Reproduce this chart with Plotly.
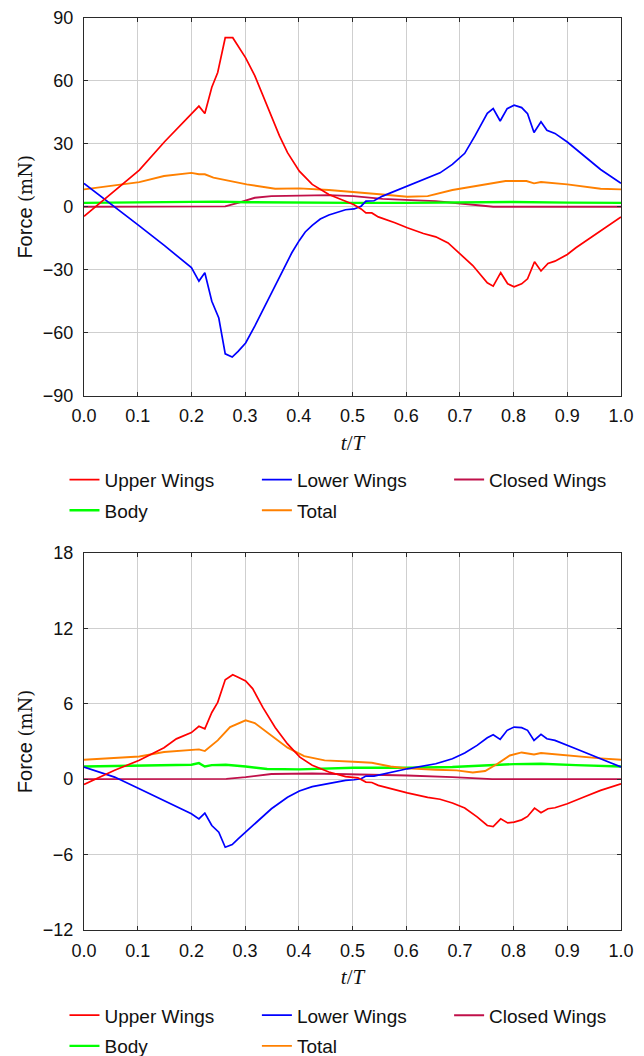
import plotly.graph_objects as go
from plotly.subplots import make_subplots

# ---------------- data: top panel (mN) ----------------
t_up1 = [0.0, 0.05, 0.103, 0.15, 0.2, 0.214, 0.225, 0.238, 0.249, 0.263, 0.277, 0.287, 0.301, 0.318, 0.333,
         0.349, 0.364, 0.379, 0.401, 0.425, 0.456, 0.479, 0.502, 0.516, 0.525, 0.536, 0.548, 0.579, 0.602,
         0.632, 0.655, 0.678, 0.701, 0.724, 0.751, 0.762, 0.776, 0.789, 0.801, 0.815, 0.826, 0.839, 0.851,
         0.864, 0.877, 0.900, 0.916, 0.939, 0.97, 1.0]
f_up1 = [-4.5, 6.0, 17.5, 31.0, 44.0, 48.0, 44.5, 57.0, 64.0, 80.6, 80.6, 76.8, 71.0, 62.5, 53.0,
         43.3, 33.8, 25.8, 17.0, 10.7, 5.9, 3.5, 1.1, -1.0, -2.9, -2.9, -4.8, -7.6, -10.0,
         -12.7, -14.3, -17.2, -22.8, -28.0, -36.2, -37.8, -31.4, -36.7, -38.1, -36.7, -34.3, -26.2, -30.6,
         -27.0, -25.9, -22.7, -19.5, -15.5, -10.0, -4.8]

t_lo1 = [0.0, 0.05, 0.1, 0.15, 0.2, 0.214, 0.225, 0.238, 0.251, 0.263, 0.276, 0.287, 0.301, 0.318, 0.341,
         0.364, 0.387, 0.401, 0.412, 0.425, 0.44, 0.456, 0.487, 0.503, 0.516, 0.525, 0.540, 0.556, 0.602,
         0.632, 0.663, 0.686, 0.709, 0.728, 0.751, 0.762, 0.775, 0.788, 0.801, 0.815, 0.826, 0.838, 0.851,
         0.862, 0.877, 0.900, 0.931, 0.962, 1.0]
f_lo1 = [11.2, 1.5, -8.5, -18.5, -29.0, -35.4, -31.4, -45.0, -53.0, -70.1, -71.6, -68.9, -64.9, -56.9, -45.0,
         -33.0, -21.9, -16.0, -12.0, -8.8, -5.8, -3.9, -1.4, -1.0, 0.3, 2.7, 2.9, 5.1, 9.9,
         13.1, 16.2, 20.2, 25.5, 33.8, 44.6, 46.8, 40.9, 46.8, 48.4, 47.3, 44.4, 35.4, 40.5,
         36.5, 35.0, 30.9, 24.2, 17.8, 11.2]

t_cl1 = [0.0, 0.25, 0.263, 0.287, 0.318, 0.349, 0.401, 0.456, 0.502, 0.556, 0.609, 0.655, 0.701, 0.747, 0.762, 1.0]
f_cl1 = [0.0, 0.0, 0.2, 1.9, 4.3, 5.1, 5.3, 5.6, 5.1, 3.8, 3.2, 2.7, 1.6, 0.3, 0.0, 0.0]

t_bo1 = [0.0, 0.1, 0.2, 0.25, 0.3, 0.4, 0.5, 0.6, 0.7, 0.8, 0.9, 1.0]
f_bo1 = [1.9, 2.1, 2.6, 2.5, 2.2, 1.9, 1.9, 1.9, 2.0, 2.3, 2.0, 1.9]

t_to1 = [0.0, 0.103, 0.149, 0.2, 0.214, 0.225, 0.241, 0.272, 0.303, 0.356, 0.401, 0.456, 0.510, 0.556,
         0.602, 0.640, 0.686, 0.732, 0.785, 0.824, 0.838, 0.851, 0.900, 0.962, 1.0]
f_to1 = [8.3, 11.8, 14.7, 16.2, 15.5, 15.5, 13.9, 12.3, 10.7, 8.6, 8.8, 8.0, 7.0, 5.9,
         4.8, 5.1, 8.0, 9.9, 12.3, 12.3, 11.2, 11.8, 10.7, 8.6, 8.3]

# ---------------- data: bottom panel (mN) ----------------
t_up2 = [0.0, 0.057, 0.103, 0.149, 0.172, 0.2, 0.214, 0.225, 0.238, 0.249, 0.263, 0.277, 0.287, 0.301,
         0.314, 0.333, 0.356, 0.379, 0.402, 0.425, 0.456, 0.487, 0.510, 0.525, 0.536, 0.548, 0.602, 0.640,
         0.663, 0.686, 0.709, 0.732, 0.751, 0.762, 0.776, 0.789, 0.801, 0.815, 0.826, 0.839, 0.851, 0.864,
         0.877, 0.900, 0.931, 0.962, 1.0]
f_up2 = [-0.42, 0.7, 1.5, 2.5, 3.2, 3.7, 4.2, 4.0, 5.3, 6.1, 7.9, 8.3, 8.1, 7.8,
         7.2, 5.7, 4.1, 2.8, 1.75, 1.1, 0.56, 0.2, 0.1, -0.24, -0.27, -0.5, -1.1, -1.45,
         -1.6, -1.9, -2.3, -3.0, -3.69, -3.77, -3.16, -3.48, -3.42, -3.24, -2.97, -2.31, -2.68, -2.36,
         -2.28, -1.96, -1.43, -0.9, -0.37]

t_lo2 = [0.0, 0.057, 0.103, 0.149, 0.2, 0.214, 0.225, 0.238, 0.251, 0.263, 0.276, 0.287, 0.318, 0.349,
         0.379, 0.401, 0.425, 0.456, 0.487, 0.503, 0.516, 0.525, 0.540, 0.602, 0.655, 0.686, 0.709, 0.732,
         0.751, 0.762, 0.775, 0.788, 0.801, 0.815, 0.826, 0.838, 0.851, 0.862, 0.877, 0.916, 0.962, 1.0]
f_lo2 = [0.96, 0.16, -0.77, -1.7, -2.76, -3.16, -2.71, -3.69, -4.22, -5.42, -5.2, -4.75, -3.56, -2.36,
         -1.45, -0.95, -0.6, -0.32, -0.1, -0.05, 0.03, 0.24, 0.24, 0.82, 1.22, 1.62, 2.07, 2.68,
         3.29, 3.53, 3.16, 3.88, 4.14, 4.09, 3.88, 3.08, 3.56, 3.21, 3.08, 2.42, 1.62, 0.96]

t_cl2 = [0.0, 0.25, 0.265, 0.301, 0.349, 0.425, 0.502, 0.602, 0.686, 0.747, 0.76, 1.0]
f_cl2 = [0.0, 0.0, 0.02, 0.16, 0.4, 0.45, 0.4, 0.29, 0.16, 0.03, 0.0, 0.0]

t_bo2 = [0.0, 0.1, 0.2, 0.214, 0.225, 0.238, 0.264, 0.301, 0.341, 0.401, 0.502, 0.602, 0.686, 0.801,
         0.839, 0.851, 0.916, 1.0]
f_bo2 = [1.0, 1.05, 1.14, 1.27, 1.0, 1.11, 1.14, 1.0, 0.8, 0.77, 0.9, 0.9, 0.96, 1.19,
         1.17, 1.22, 1.11, 1.0]

t_to2 = [0.0, 0.103, 0.149, 0.2, 0.214, 0.225, 0.249, 0.272, 0.301, 0.318, 0.349, 0.379, 0.410, 0.448,
         0.502, 0.536, 0.571, 0.602, 0.655, 0.694, 0.724, 0.747, 0.770, 0.793, 0.815, 0.826, 0.838, 0.851,
         0.900, 0.962, 1.0]
f_to2 = [1.54, 1.8, 2.15, 2.34, 2.36, 2.23, 3.08, 4.14, 4.67, 4.46, 3.48, 2.5, 1.83, 1.49,
         1.38, 1.3, 1.0, 0.85, 0.74, 0.69, 0.53, 0.64, 1.22, 1.88, 2.12, 2.07, 1.96, 2.07,
         1.86, 1.65, 1.54]

names = ["Upper Wings", "Lower Wings", "Closed Wings", "Body", "Total"]
colors = {"Upper Wings": "#ff0000", "Lower Wings": "#0000ff", "Closed Wings": "#c0104a",
          "Body": "#00ff00", "Total": "#ff8000"}
widths = {"Upper Wings": 1.7, "Lower Wings": 1.7, "Closed Wings": 1.9, "Body": 2.4, "Total": 1.9}

panels = [
    {"Upper Wings": (t_up1, f_up1), "Lower Wings": (t_lo1, f_lo1), "Closed Wings": (t_cl1, f_cl1),
     "Body": (t_bo1, f_bo1), "Total": (t_to1, f_to1)},
    {"Upper Wings": (t_up2, f_up2), "Lower Wings": (t_lo2, f_lo2), "Closed Wings": (t_cl2, f_cl2),
     "Body": (t_bo2, f_bo2), "Total": (t_to2, f_to2)},
]
y_ranges = [[-90, 90], [-12, 18]]
y_dticks = [30, 6]

W, H = 644, 1056
fig = make_subplots(rows=2, cols=1, vertical_spacing=0.172)

# legend columns: Upper/Body ; Lower/Total ; Closed
col_of = {"Upper Wings": 0, "Body": 0, "Lower Wings": 1, "Total": 1, "Closed Wings": 2}
draw_order = ["Closed Wings", "Body", "Total", "Lower Wings", "Upper Wings"]
legend_order_rank = {"Upper Wings": 1, "Lower Wings": 1, "Closed Wings": 1, "Body": 2, "Total": 2}

for p, panel in enumerate(panels):
    for name in draw_order:
        tx, fy = panel[name]
        lid = 3 * p + col_of[name] + 1
        lname = "legend" if lid == 1 else f"legend{lid}"
        fig.add_trace(go.Scatter(
            x=tx, y=fy, mode="lines", name=name,
            line=dict(color=colors[name], width=widths[name]),
            legend=lname, legendgroup=f"{lname}_{name}",
            legendrank=legend_order_rank[name],
        ), row=p + 1, col=1)

font_main = "Liberation Sans, Arial, sans-serif"
font_serif = "Liberation Serif, DejaVu Serif, serif"
frame = "#2a2a2a"
grid = "#cfcfcf"

ytitle = 'Force <span style="font-family:DejaVu Serif;font-size:18px">(mN)</span>'

for p in range(2):
    fig.update_xaxes(range=[0, 1], dtick=0.1, tick0=0, tickformat=".1f",
                     showgrid=True, gridcolor=grid, gridwidth=1,
                     showline=True, linecolor=frame, linewidth=1.2, mirror="ticks",
                     ticks="inside", ticklen=4, tickcolor=frame,
                     zeroline=False, ticklabelstandoff=4,
                     tickfont=dict(size=18, family=font_main, color="#111"),
                     title=dict(text="<i>t</i>/<i>T</i>", standoff=9,
                                font=dict(size=21, family=font_serif, color="#111")),
                     row=p + 1, col=1)
    fig.update_yaxes(range=y_ranges[p], dtick=y_dticks[p], tick0=0,
                     showgrid=True, gridcolor=grid, gridwidth=1,
                     showline=True, linecolor=frame, linewidth=1.2, mirror="ticks",
                     ticks="inside", ticklen=4, tickcolor=frame,
                     zeroline=False, ticklabelstandoff=6,
                     tickfont=dict(size=18, family=font_main, color="#111"),
                     title=dict(text=ytitle, standoff=4,
                                font=dict(size=20, family=font_main, color="#111")),
                     row=p + 1, col=1)

# layout margins -> plot area x: 84.3..620.7 ; y: 18.3..929.7
ml, mr, mt, mb = 84.3, 23.3, 18.3, 126.3
plot_w = W - ml - mr
plot_h = H - mt - mb
top_dom = [(929.7 - 395.7) / plot_h, 1.0]
bot_dom = [0.0, (929.7 - 552.7) / plot_h]
fig.update_layout(yaxis=dict(domain=top_dom), yaxis2=dict(domain=bot_dom),
                  xaxis=dict(domain=[0, 1]), xaxis2=dict(domain=[0, 1]))

legend_rows_y = [476.7, 1012.0]
legend_cols_x = [64.8, 257.0, 449.0]
legend_font = dict(size=19, family=font_main, color="#111")
leg_layout = {}
for p in range(2):
    for c in range(3):
        lid = 3 * p + c + 1
        lname = "legend" if lid == 1 else f"legend{lid}"
        top_px = legend_rows_y[p] - 16
        leg_layout[lname] = dict(
            xref="paper", yref="paper",
            x=(legend_cols_x[c] - ml) / plot_w, y=(H - mb - top_px) / plot_h,
            xanchor="left", yanchor="top",
            orientation="v", bgcolor="rgba(0,0,0,0)",
            font=legend_font, tracegroupgap=3, traceorder="grouped",
            itemwidth=30,
        )

fig.update_layout(
    width=W, height=H,
    margin=dict(l=ml, r=mr, t=mt, b=mb, pad=0, autoexpand=False),
    plot_bgcolor="white", paper_bgcolor="white",
    showlegend=True,
    font=dict(family=font_main, color="#111"),
    **leg_layout,
)

fig.write_html("out.html")
